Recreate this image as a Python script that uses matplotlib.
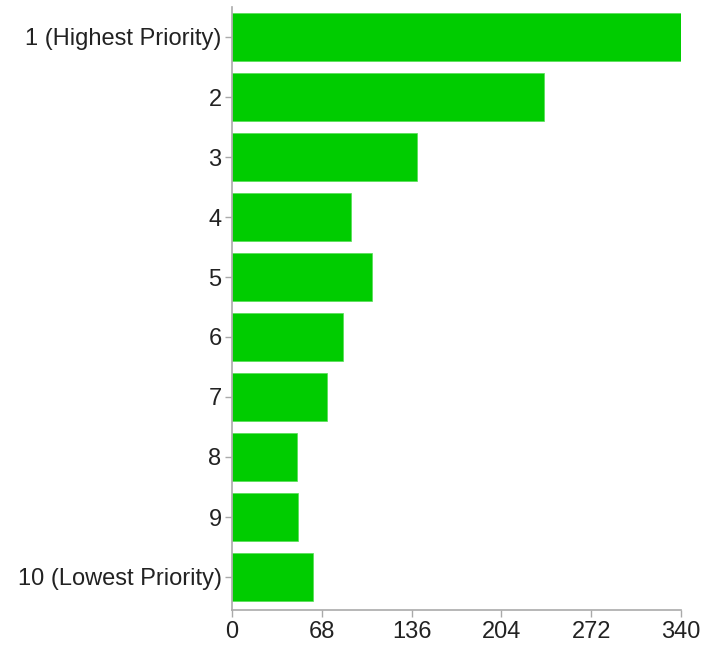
import matplotlib
matplotlib.use("Agg")
import matplotlib.pyplot as plt

# ---------- data ----------
labels = ["1 (Highest Priority)", "2", "3", "4", "5", "6", "7", "8", "9",
          "10 (Lowest Priority)"]
counts = [340, 236, 140, 90, 106, 84, 72, 49, 50, 61]
xticks = [0, 68, 136, 204, 272, 340]

plt.rcParams['font.family'] = ['Liberation Sans', 'DejaVu Sans']

fig = plt.figure(figsize=(7.03, 6.47), dpi=100)
ax = fig.add_axes([232 / 703, 1 - 610 / 647, 449 / 703, 603 / 647])

ypos = list(range(len(labels)))
ax.barh(ypos, counts, height=0.8, color='#00cc00', edgecolor='#55dd55',
        linewidth=0.5)

ax.set_xlim(0, 340)
ax.set_ylim(9.55, -0.5)
ax.set_yticks(ypos)
ax.set_yticklabels(labels)
ax.set_xticks(xticks)
ax.set_xticklabels([str(t) for t in xticks])

for s in ['top', 'right']:
    ax.spines[s].set_visible(False)
for s in ['left', 'bottom']:
    ax.spines[s].set_color('#aaaaaa')
    ax.spines[s].set_linewidth(1.2)

ax.tick_params(axis='both', colors='#aaaaaa', length=5, width=1,
               labelcolor='#222222', labelsize=17)
ax.tick_params(axis='y', pad=2.5)
ax.tick_params(axis='x', pad=3)

fig.savefig('out.png', dpi=100)
